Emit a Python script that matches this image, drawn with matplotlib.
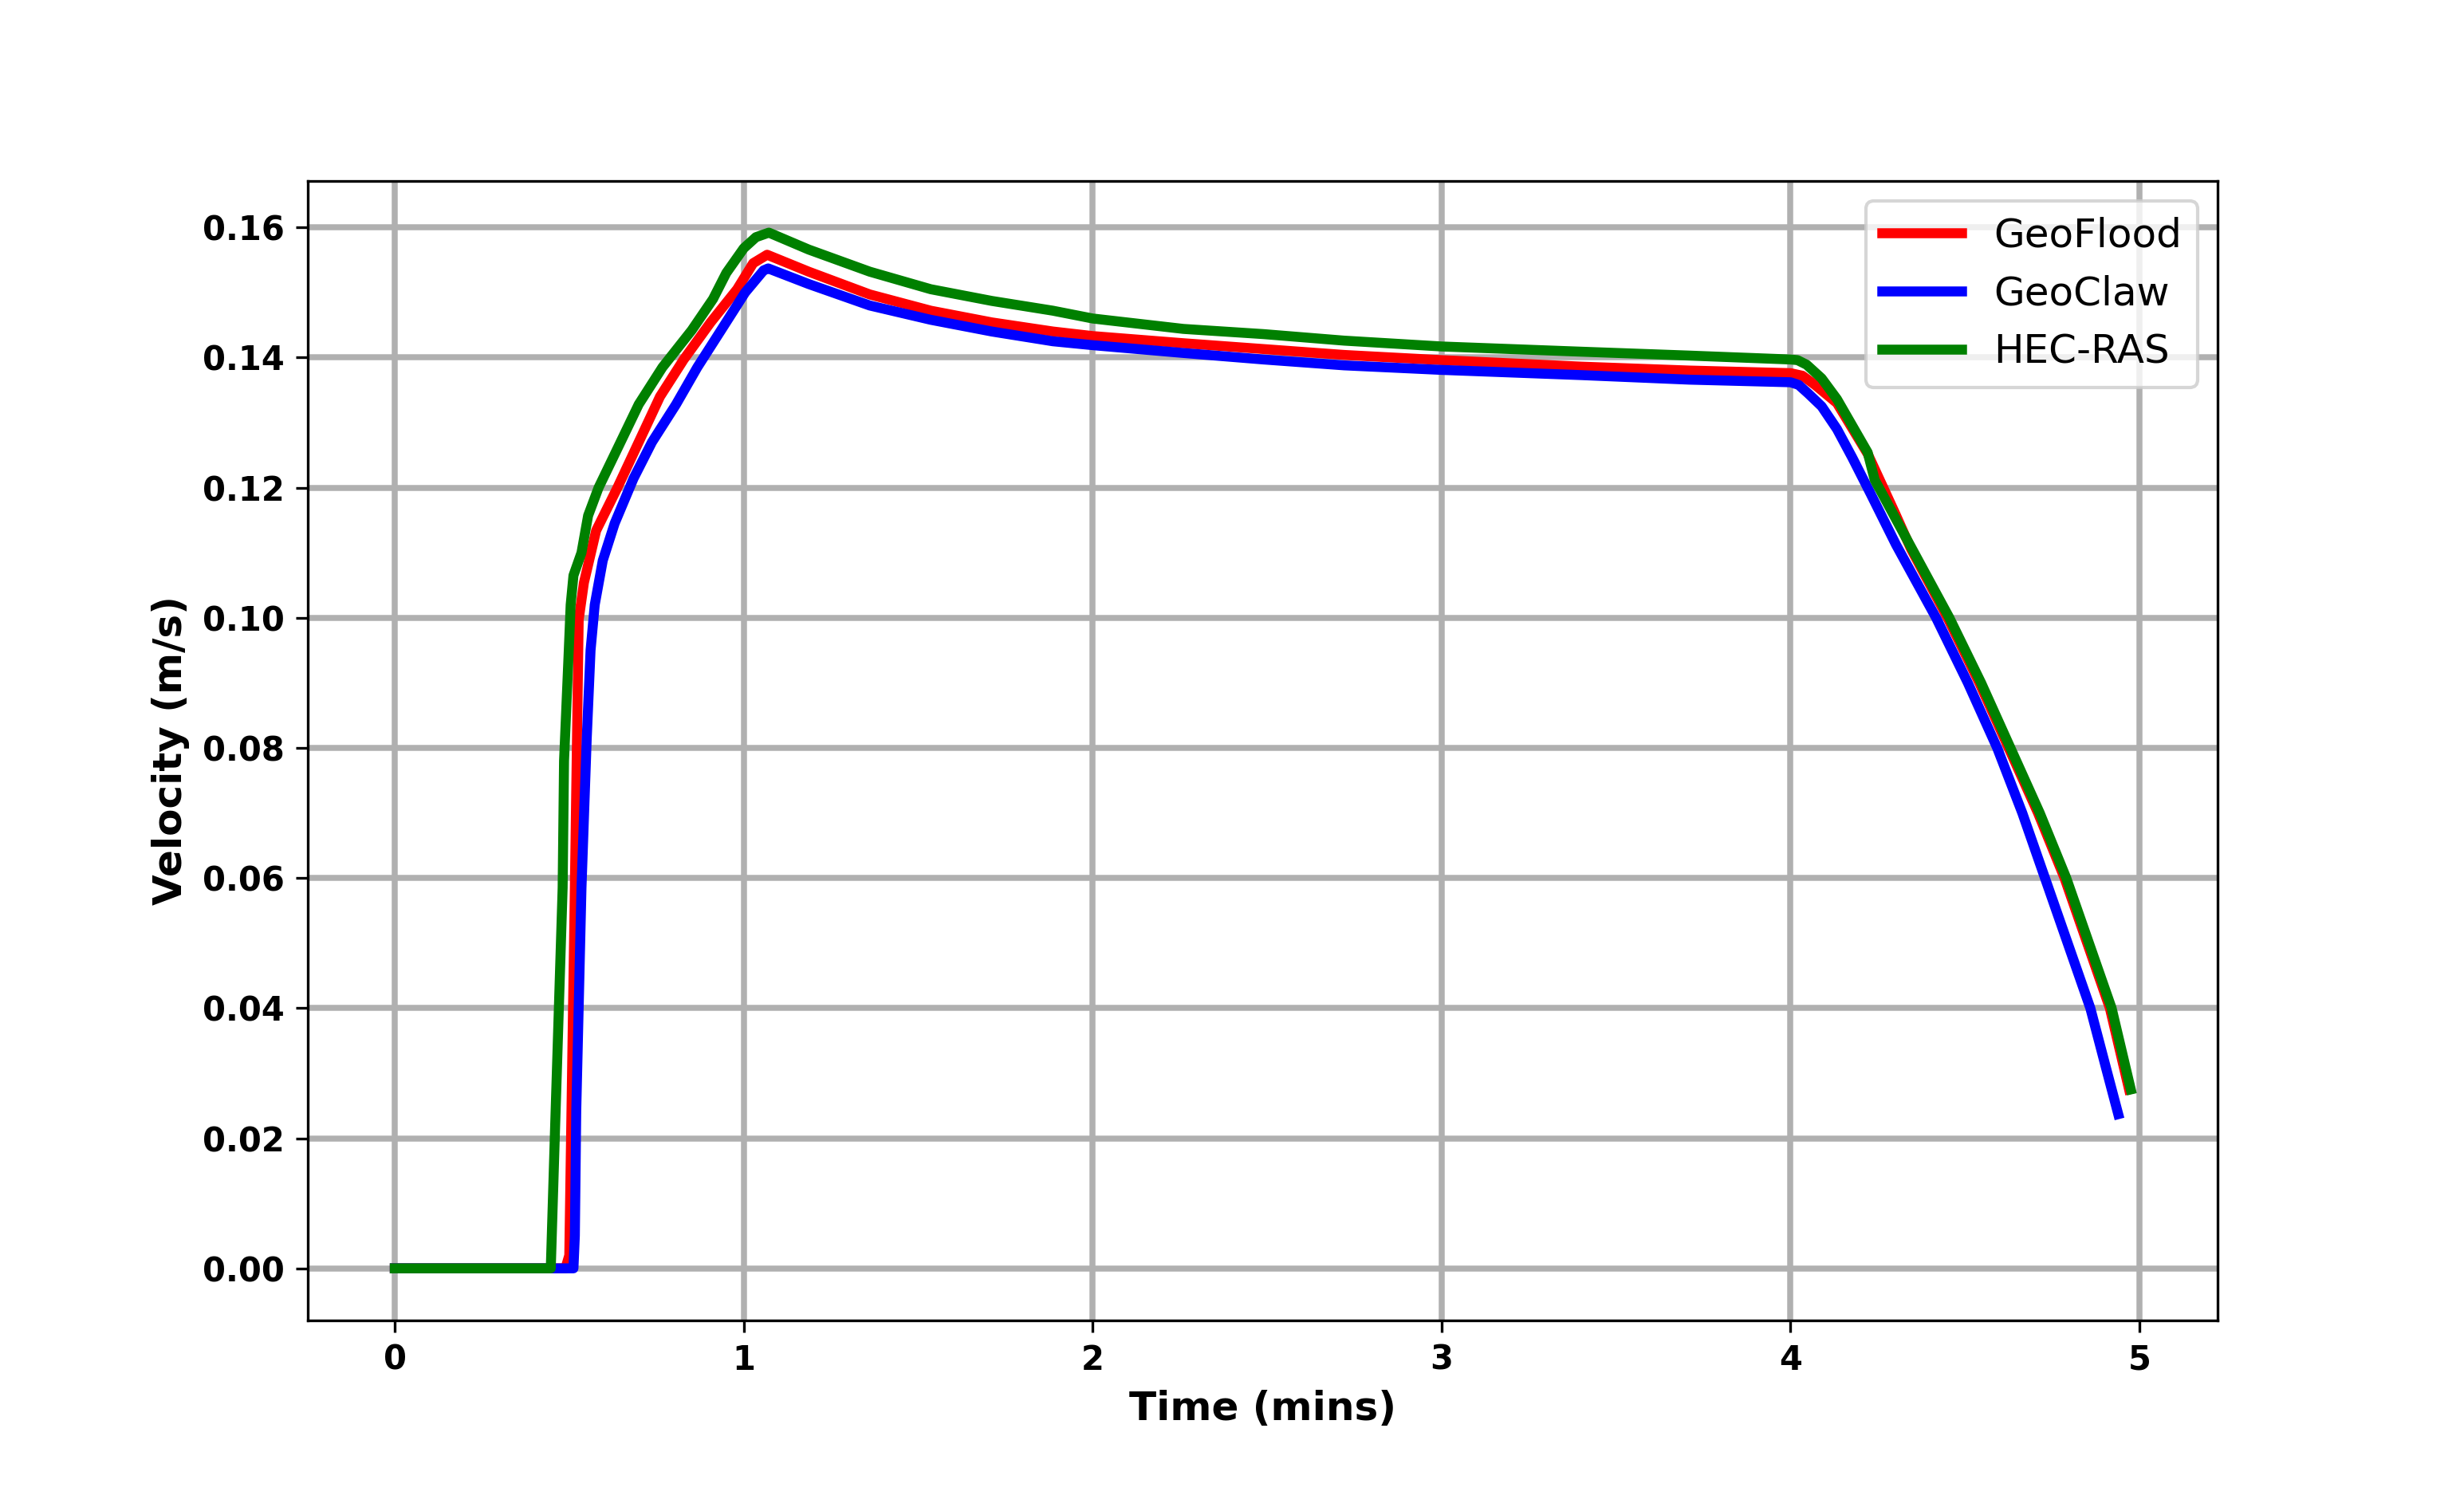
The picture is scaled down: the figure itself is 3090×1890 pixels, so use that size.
import numpy as np
import matplotlib
matplotlib.use('Agg')
import matplotlib.pyplot as plt

# GeoFlood
t_geoflood = [0, 0.489, 0.500, 0.516, 0.527, 0.542, 0.577, 0.638, 0.699, 0.760, 0.828, 0.905,
              0.981, 1.027, 1.067, 1.186, 1.361, 1.536, 1.711, 1.886, 2.0, 2.26, 2.49, 2.72,
              3.0, 3.40, 3.71, 4.0, 4.034, 4.07, 4.133, 4.221, 4.300, 4.345, 4.450, 4.541, 4.625,
              4.709, 4.785, 4.850, 4.915, 4.970]
v_geoflood = [0, 0, 0.002, 0.0585, 0.0997, 0.1054, 0.1134, 0.120, 0.127, 0.134, 0.1397, 0.1454,
              0.1505, 0.1545, 0.1558, 0.1532, 0.1497, 0.1472, 0.1454, 0.1440, 0.1433, 0.1422, 0.1413, 0.1404,
              0.1396, 0.1386, 0.1380, 0.1376, 0.1372, 0.1358, 0.1330, 0.1252, 0.1160, 0.1106, 0.100, 0.090, 0.080,
              0.070, 0.060, 0.050, 0.040, 0.0275]

# GeoClaw
t_geoclaw = [0, 0.512, 0.516, 0.520, 0.535, 0.550, 0.561, 0.573, 0.596, 0.630, 0.684, 0.737,
             0.806, 0.867, 0.935, 1.004, 1.057, 1.070, 1.186, 1.361, 1.536, 1.711, 1.886, 2.0,
             2.26, 2.49, 2.72, 3.0, 3.40, 3.71, 4.0, 4.023, 4.05, 4.089, 4.133, 4.177, 4.230, 4.302,
             4.417, 4.508, 4.592, 4.664, 4.729, 4.794, 4.859, 4.905, 4.939]
v_geoclaw = [0, 0, 0.005, 0.0242, 0.0585, 0.0814, 0.095, 0.102, 0.1088, 0.1145, 0.1214, 0.127,
             0.1328, 0.1385, 0.1442, 0.150, 0.1534, 0.1537, 0.1513, 0.1480, 0.1458, 0.1440, 0.1425, 0.1419,
             0.1407, 0.1397, 0.1388, 0.1381, 0.1373, 0.1366, 0.1362, 0.1358, 0.1345, 0.1325, 0.1290, 0.1246,
             0.1190, 0.11125, 0.100, 0.090, 0.080, 0.070, 0.060, 0.050, 0.040, 0.0306, 0.0237]

# HEC-RAS
t_hecras = [0, 0.447, 0.459, 0.481, 0.485, 0.497, 0.504, 0.512, 0.535, 0.554, 0.584, 0.638,
            0.699, 0.767, 0.851, 0.912, 0.950, 1.0, 1.035, 1.072, 1.186, 1.361, 1.536, 1.711,
            1.886, 2.0, 2.26, 2.49, 2.72, 3.0, 3.40, 3.71, 4.0, 4.020, 4.046, 4.089, 4.133, 4.221,
            4.241, 4.348, 4.455, 4.546, 4.630, 4.714, 4.790, 4.855, 4.920, 4.975]
v_hecras = [0, 0, 0.021, 0.0585, 0.078, 0.093, 0.102, 0.1065, 0.110, 0.1157, 0.120, 0.126,
            0.1328, 0.1385, 0.1442, 0.149, 0.153, 0.1568, 0.1585, 0.1592, 0.1566, 0.1532, 0.1505, 0.1487,
            0.1472, 0.1460, 0.1444, 0.1436, 0.1426, 0.1417, 0.1409, 0.1403, 0.1397, 0.1396, 0.1389, 0.1368,
            0.1336, 0.1254, 0.1212, 0.1106, 0.100, 0.090, 0.080, 0.070, 0.060, 0.050, 0.040, 0.0275]

fig, ax = plt.subplots(figsize=(10.3, 6.3), dpi=300)
fig.subplots_adjust(left=0.125, right=0.9, top=0.88, bottom=0.124)

ax.plot(t_geoflood, v_geoflood, color='red', linewidth=3, label='GeoFlood')
ax.plot(t_geoclaw, v_geoclaw, color='blue', linewidth=3, label='GeoClaw')
ax.plot(t_hecras, v_hecras, color='green', linewidth=3, label='HEC-RAS')

ax.grid(True, color='#b0b0b0', linewidth=1.8)
ax.set_xlabel('Time (mins)', fontsize=12, fontweight='bold')
ax.set_ylabel('Velocity (m/s)', fontsize=12, fontweight='bold')
for lab in ax.get_xticklabels() + ax.get_yticklabels():
    lab.set_fontweight('bold')
ax.yaxis.set_major_formatter(matplotlib.ticker.FormatStrFormatter('%.2f'))
ax.legend(loc='upper right', fontsize=12)

fig.savefig('out.png', dpi=300)
